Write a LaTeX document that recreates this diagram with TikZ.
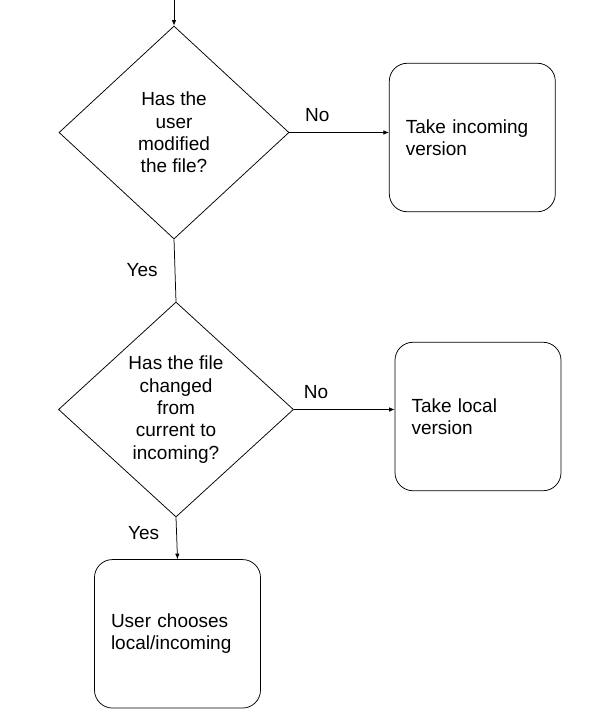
\documentclass[tikz,border=0pt]{standalone}
\usepackage{fontspec}
\setmainfont{Liberation Sans}
\usetikzlibrary{positioning,arrows.meta,shapes.geometric}

\tikzset{
  flowtext/.style={font=\fontsize{19}{22.3}\selectfont},
  question/.style={flowtext, draw, diamond, aspect=1, inner sep=0pt, align=center,
    minimum width=230pt, minimum height=213pt},
  action/.style={flowtext, draw, rounded corners=18pt, align=left, text width=133pt,
    inner xsep=16.5pt, minimum height=148.5pt},
  answer/.style={flowtext, inner sep=2pt},
  flow/.style={-{Latex[length=5.5pt,width=4.5pt]}}
}

\begin{document}
\begin{tikzpicture}[x=1pt, y=-1pt, line width=0.75pt]
        \useasboundingbox (0,0) rectangle (598,712);

        % decisions
        \coordinate (start) at (174,0);
        \node[question] (modified) at (174,132.5) {Has the\\user\\modified\\the file?};
        \node[question, minimum width=235pt, minimum height=215pt] (changed) at (176,409.5)
            {Has the file\\changed\\from\\current to\\incoming?};

        % outcomes
        \node[action] (incoming) at (472.3,137.5) {Take incoming\\version};
        \node[action] (local) at (478,416.5) {Take local\\version};
        \node[action] (choose) at (177.5,633.8) {User chooses\\local/incoming};

        % connectors
        \draw[flow] (start) -- (modified.north);
        \draw[flow] (modified.east) -- node[answer, pos=0.28, above=8pt] {No} (incoming.west |- modified.east);
        \draw (modified.south) -- node[answer, left=15pt] {Yes} (changed.north);
        \draw[flow] (changed.east) -- node[answer, pos=0.22, above=8pt] {No} (local.west |- changed.east);
        \draw[flow] (changed.south) -- node[answer, pos=0.38, left=15pt] {Yes} (choose.north);

\end{tikzpicture}
\end{document}
